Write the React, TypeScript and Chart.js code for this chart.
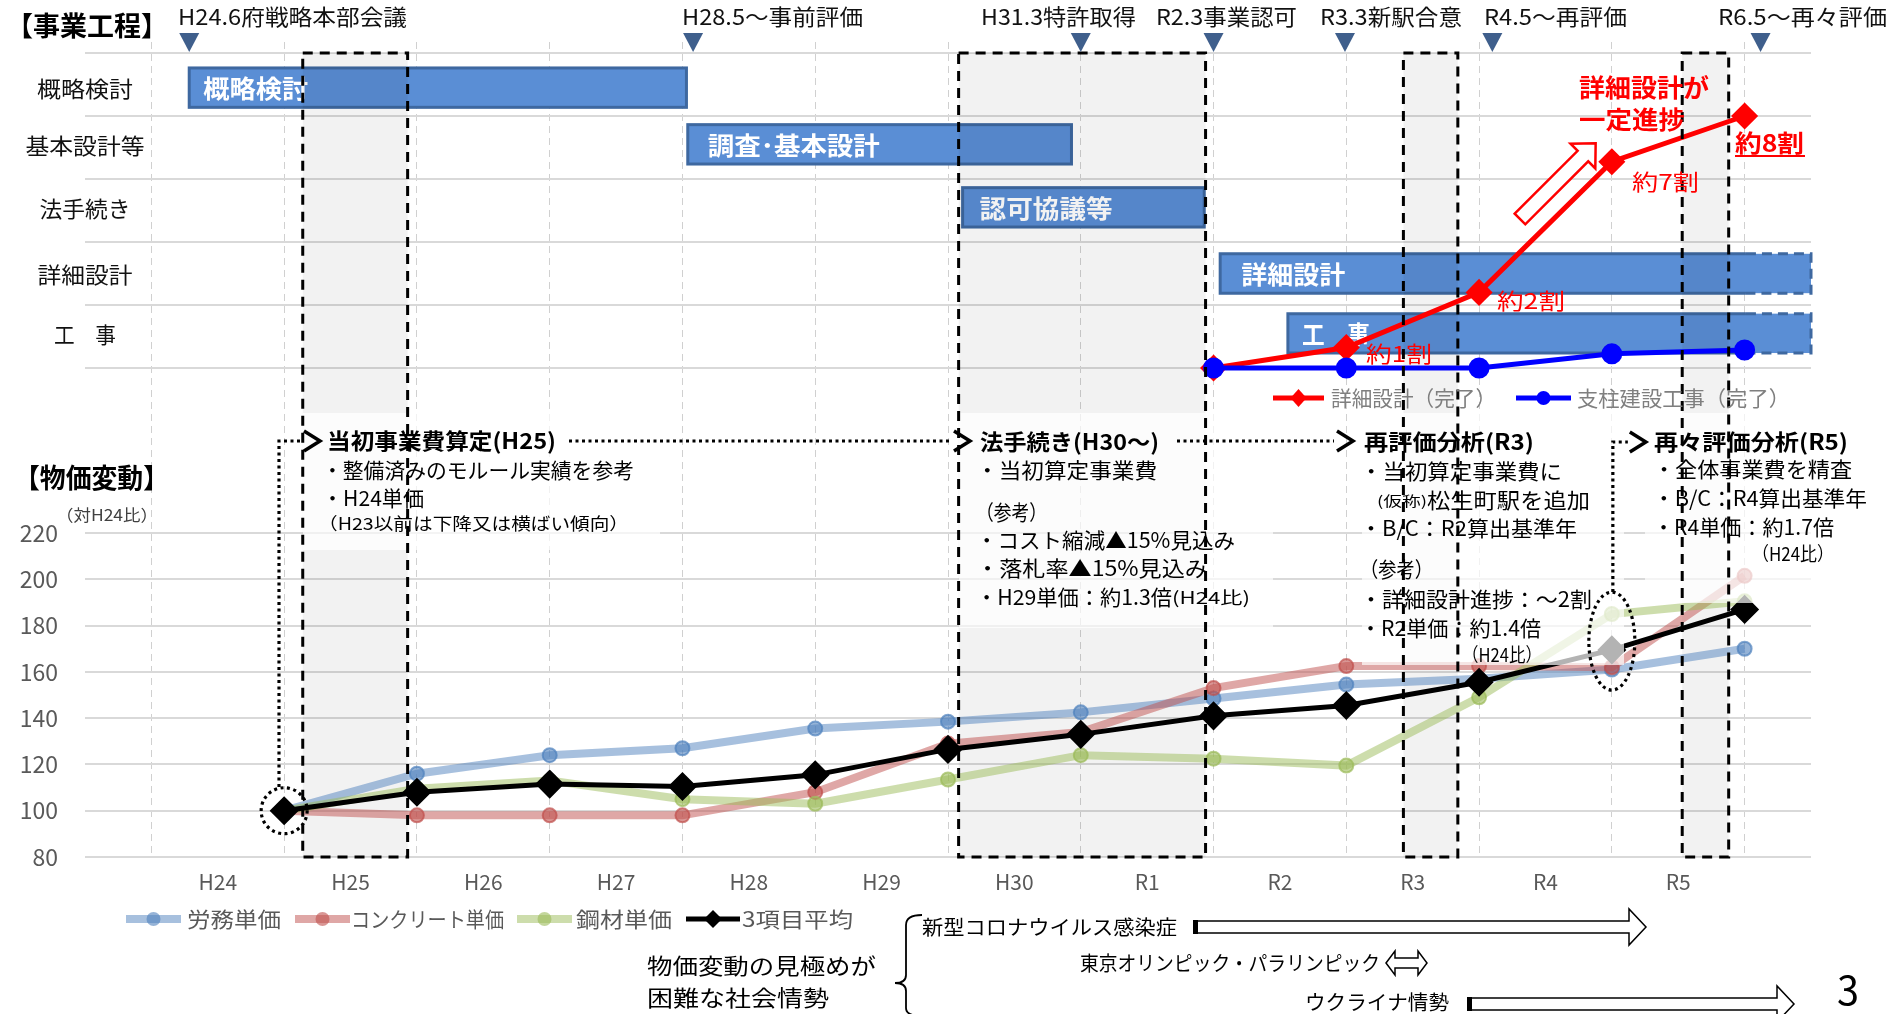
import React, { useEffect, useRef } from 'react';
import { Chart, registerables } from 'chart.js';
Chart.register(...registerables);

const FONT = '"Noto Sans CJK JP", "Noto Sans", sans-serif';
Chart.defaults.font.family = FONT;

// ---------- data ----------
const xLabels = ['H24', 'H25', 'H26', 'H27', 'H28', 'H29', 'H30', 'R1', 'R2', 'R3', 'R4', 'R5'];
const priceTicks = [80, 100, 120, 140, 160, 180, 200, 220];
const laborIdx = [100, 116, 124, 127, 135.5, 138.5, 142.5, 148.5, 154.5, 157, 161, 170];
const concreteIdx = [100, 98, 98, 98, 108, 129, 134, 153, 162.5, 162.5, 162, 201.5];
const steelIdx = [100, 109.5, 113, 105, 103, 113.5, 124, 122.5, 119.5, 149, 185, 190.5];
const avgIdx = [100, 108, 111.5, 110.5, 115.5, 126.5, 133, 141, 145.5, 155.5, 169.5, 187];

const progressX = [7, 8, 9, 10, 11];
const designProgress = [0, 6.5, 24, 65.5, 80];
const pillarProgress = [0, 0, 0, 4.5, 5.7];
const progressTicks = [0, 20, 40, 60, 80, 100];

const rowLabels = ['概略検討', '基本設計等', '法手続き', '詳細設計', '工　事'];
const taskLabels = ['概略検討', '調査･基本設計', '認可協議等', '詳細設計', '工　事'];
const taskRows = [0, 1, 2, 3, 4];
const taskStarts = [-0.715, 3.04, 5.11, 7.05, 7.56];
const taskSolidEnds = [3.03, 5.93, 6.93, 11.01, 11.01];
const taskEnds = [3.03, 5.93, 6.93, 11.5, 11.5];

const milestoneLabels = ['H24.6府戦略本部会議', 'H28.5～事前評価', 'H31.3特許取得', 'R2.3事業認可', 'R3.3新駅合意', 'R4.5～再評価', 'R6.5～再々評価'];
const milestoneAt = [-0.715, 3.08, 6.0, 7.0, 7.99, 9.1, 11.12];

const shadeStarts = [0.14, 5.08, 8.43, 10.53];
const shadeEnds = [0.93, 6.94, 8.84, 10.88];

const progressNotes = ['約1割', '約2割', '約7割', '約8割'];

// ---------- layout (pixels / styling) ----------
const rowCenters = [89, 71, 51, 30, 11];
const rowLabelW = [96, 119, 91, 95, 62];
const taskTextOffset = [14, 20, 17, 21, 14];
const taskTextW = [105, 172, 133, 104, 68];
const milestoneTextX = [178, 682, 981, 1156, 1320, 1484, 1718];
const milestoneTextW = [229, 181, 155, 141, 142, 143, 169];
const BAR_FILL = '#5A8ED5';
const BAR_EDGE = '#3E68A0';

function txt(ctx: any, s: string, x: number, y: number, size: number, o: any = {}) {
  ctx.save();
  ctx.font = `${o.bold ? 'bold ' : ''}${size}px ${FONT}`;
  ctx.fillStyle = o.color || '#000';
  ctx.textBaseline = 'middle';
  ctx.textAlign = 'left';
  const m = ctx.measureText(s).width;
  const sx = o.w ? Math.max(0.6, Math.min(1.4, o.w / m)) : 1;
  const width = m * sx;
  let left = x;
  if (o.align === 'center') left = x - width / 2;
  else if (o.align === 'right') left = x - width;
  ctx.translate(left, y);
  ctx.scale(sx, 1);
  ctx.fillText(s, 0, 0);
  ctx.restore();
}

function dotted(ctx: any, pts: number[][]) {
  ctx.save();
  ctx.setLineDash([3, 3.5]);
  ctx.lineWidth = 3.2;
  ctx.strokeStyle = '#000';
  ctx.beginPath();
  pts.forEach((p, i) => (i ? ctx.lineTo(p[0], p[1]) : ctx.moveTo(p[0], p[1])));
  ctx.stroke();
  ctx.restore();
}

function chevron(ctx: any, x: number, y: number) {
  ctx.save();
  ctx.lineWidth = 3.5;
  ctx.strokeStyle = '#000';
  ctx.beginPath();
  ctx.moveTo(x, y - 10);
  ctx.lineTo(x + 16, y);
  ctx.lineTo(x, y + 10);
  ctx.stroke();
  ctx.restore();
}

function arrowPath(ctx: any, x1: number, x2: number, y: number, sh: number, hh: number, hl: number) {
  ctx.beginPath();
  ctx.moveTo(x1, y - sh / 2);
  ctx.lineTo(x2 - hl, y - sh / 2);
  ctx.lineTo(x2 - hl, y - hh / 2);
  ctx.lineTo(x2, y);
  ctx.lineTo(x2 - hl, y + hh / 2);
  ctx.lineTo(x2 - hl, y + sh / 2);
  ctx.lineTo(x1, y + sh / 2);
  ctx.closePath();
}

function hollowArrow(ctx: any, x1: number, x2: number, y: number) {
  ctx.save();
  arrowPath(ctx, x1, x2, y, 12, 36, 17);
  ctx.fillStyle = '#fff';
  ctx.fill();
  ctx.strokeStyle = '#000';
  ctx.lineWidth = 1.5;
  ctx.stroke();
  ctx.fillStyle = '#000';
  ctx.fillRect(x1 - 2, y - 7, 5, 14);
  ctx.restore();
}

const overlayPlugin = {
  id: 'overlay',
  beforeDatasetsDraw(chart: any) {
    const ctx = chart.ctx;
    const X = (v: number) => chart.scales.x.getPixelForValue(v);
    const YT = (v: number) => chart.scales.yT.getPixelForValue(v);
    const YP = (v: number) => chart.scales.yP.getPixelForValue(v);
    const ca = chart.chartArea;
    const barH = YT(0) - YT(12.5);
    taskLabels.forEach((lab, i) => {
      const x1 = X(taskStarts[i]);
      const x2 = Math.min(X(taskEnds[i]), ca.right);
      const xs = X(taskSolidEnds[i]);
      const yc = YT(rowCenters[taskRows[i]]);
      const y1 = yc - barH / 2;
      ctx.save();
      ctx.fillStyle = BAR_FILL;
      ctx.fillRect(x1, y1, x2 - x1, barH);
      ctx.strokeStyle = BAR_EDGE;
      ctx.lineWidth = 3;
      if (xs >= x2 - 0.5) {
        ctx.strokeRect(x1, y1, x2 - x1, barH);
      } else {
        ctx.beginPath();
        ctx.moveTo(xs, y1); ctx.lineTo(x1, y1); ctx.lineTo(x1, y1 + barH); ctx.lineTo(xs, y1 + barH);
        ctx.stroke();
        ctx.setLineDash([10, 6]);
        ctx.beginPath();
        ctx.moveTo(xs, y1); ctx.lineTo(x2, y1); ctx.lineTo(x2, y1 + barH); ctx.lineTo(xs, y1 + barH);
        ctx.stroke();
      }
      ctx.restore();
      txt(ctx, lab, x1 + taskTextOffset[i], yc + 1, 25, { bold: true, color: '#fff', w: taskTextW[i] });
    });
    ctx.save();
    ctx.fillStyle = 'rgba(0,0,0,0.05)';
    shadeStarts.forEach((s, i) => {
      const x1 = X(s), x2 = X(shadeEnds[i]);
      ctx.fillRect(x1, YT(100), x2 - x1, YP(80) - YT(100));
    });
    ctx.restore();
  },
  afterDatasetsDraw(chart: any) {
    const ctx = chart.ctx;
    const X = (v: number) => chart.scales.x.getPixelForValue(v);
    const YT = (v: number) => chart.scales.yT.getPixelForValue(v);
    const YP = (v: number) => chart.scales.yP.getPixelForValue(v);
    const ds = chart.data.datasets;

    // translucent text boxes
    ctx.save();
    ctx.fillStyle = 'rgba(255,255,255,0.7)';
    ctx.fillRect(303, 413, 357, 137);
    ctx.fillRect(959, 413, 314, 215);
    ctx.fillRect(1362, 413, 262, 252);
    ctx.fillRect(1645, 413, 242, 190);
    ctx.restore();

    // dashed period frames
    ctx.save();
    ctx.setLineDash([10, 7]);
    ctx.lineWidth = 3;
    ctx.strokeStyle = '#000';
    shadeStarts.forEach((s, i) => {
      const x1 = X(s), x2 = X(shadeEnds[i]);
      ctx.strokeRect(x1, YT(100), x2 - x1, YP(80) - YT(100));
    });
    ctx.restore();

    // titles
    txt(ctx, '【事業工程】', 6, 26, 27, { bold: true, w: 162 });
    txt(ctx, '【物価変動】', 14, 478, 27, { bold: true, w: 155 });
    txt(ctx, '（対H24比）', 56, 515, 16, { w: 102, color: '#404040' });

    // milestones
    milestoneLabels.forEach((m, i) => {
      txt(ctx, m, milestoneTextX[i], 17, 22, { w: milestoneTextW[i], color: '#111' });
      const cx = X(milestoneAt[i]);
      ctx.save();
      ctx.fillStyle = '#3F5F8C';
      ctx.beginPath();
      ctx.moveTo(cx - 10, 33); ctx.lineTo(cx + 10, 33); ctx.lineTo(cx, 52); ctx.closePath();
      ctx.fill();
      ctx.restore();
    });

    // row labels
    rowLabels.forEach((r, i) => {
      txt(ctx, r, 85, YT(rowCenters[i]) + 1, 22, { align: 'center', w: rowLabelW[i], color: '#111' });
    });

    // red annotations
    txt(ctx, '詳細設計が', 1579, 87, 25, { bold: true, color: '#FF0000', w: 130 });
    txt(ctx, '一定進捗', 1579, 119, 25, { bold: true, color: '#FF0000', w: 106 });
    txt(ctx, progressNotes[3], 1735, 143, 24, { bold: true, color: '#FF0000', w: 69 });
    ctx.save();
    ctx.fillStyle = '#FF0000';
    ctx.fillRect(1735, 155, 70, 2);
    ctx.restore();
    txt(ctx, progressNotes[2], 1632, 182, 22, { color: '#FF0000', w: 67 });
    txt(ctx, progressNotes[1], 1497, 301, 22, { color: '#FF0000', w: 68 });
    txt(ctx, progressNotes[0], 1366, 354, 22, { color: '#FF0000', w: 66 });
    // diagonal hollow arrow
    ctx.save();
    ctx.translate(1520, 219);
    ctx.rotate(-Math.PI / 4);
    arrowPath(ctx, 0, 107, 0, 15, 35, 18);
    ctx.fillStyle = '#fff';
    ctx.fill();
    ctx.strokeStyle = '#FF0000';
    ctx.lineWidth = 2.5;
    ctx.stroke();
    ctx.restore();

    // top legend
    const legendTop = [
      { d: ds[4], x1: 1273, x2: 1324, tx: 1331, tw: 165 },
      { d: ds[5], x1: 1516, x2: 1571, tx: 1577, tw: 213 },
    ];
    legendTop.forEach((l) => {
      ctx.save();
      ctx.strokeStyle = l.d.borderColor;
      ctx.lineWidth = 5;
      ctx.beginPath(); ctx.moveTo(l.x1, 398); ctx.lineTo(l.x2, 398); ctx.stroke();
      ctx.fillStyle = l.d.borderColor;
      const cx = (l.x1 + l.x2) / 2;
      ctx.beginPath();
      if (l.d.pointStyle === 'rectRot') {
        ctx.moveTo(cx, 389); ctx.lineTo(cx + 8, 398); ctx.lineTo(cx, 407); ctx.lineTo(cx - 8, 398); ctx.closePath();
      } else {
        ctx.arc(cx, 398, 7, 0, Math.PI * 2);
      }
      ctx.fill();
      ctx.restore();
      txt(ctx, l.d.label, l.tx, 398, 21, { color: '#7F7F7F', w: l.tw });
    });

    // block 1
    dotted(ctx, [[279, 787], [279, 441], [301, 441]]);
    chevron(ctx, 304, 441);
    ctx.save();
    ctx.setLineDash([3, 3.5]);
    ctx.lineWidth = 3.2;
    ctx.beginPath();
    ctx.arc(X(0), YP(avgIdx[0]), 23, 0, Math.PI * 2);
    ctx.stroke();
    ctx.restore();
    txt(ctx, '当初事業費算定(H25)', 327, 441, 22, { bold: true, w: 229 });
    dotted(ctx, [[569, 441], [950, 441]]);
    txt(ctx, '・整備済みのモルール実績を参考', 322, 470, 21, { w: 312 });
    txt(ctx, '・H24単価', 322, 498, 21, { w: 102 });
    txt(ctx, '（H23以前は下降又は横ばい傾向）', 318, 524, 17, { w: 311 });

    // block 2
    chevron(ctx, 954, 441);
    txt(ctx, '法手続き(H30～)', 980, 442, 22, { bold: true, w: 179 });
    dotted(ctx, [[1177, 441], [1334, 441]]);
    txt(ctx, '・当初算定事業費', 976, 470, 21, { w: 181 });
    txt(ctx, '（参考）', 976, 512, 21, { w: 71 });
    txt(ctx, '・コスト縮減▲15%見込み', 976, 540, 21, { w: 259 });
    txt(ctx, '・落札率▲15%見込み', 976, 568, 21, { w: 232 });
    txt(ctx, '・H29単価：約1.3倍', 976, 597, 21, { w: 196 });
    txt(ctx, '(H24比)', 1172, 598, 17, { w: 78 });

    // block 3
    chevron(ctx, 1337, 441);
    txt(ctx, '再評価分析(R3)', 1364, 442, 22, { bold: true, w: 170 });
    txt(ctx, '・当初算定事業費に', 1360, 471, 21, { w: 202 });
    txt(ctx, '(仮称)', 1377, 501, 14, { w: 50 });
    txt(ctx, '松生町駅を追加', 1427, 500, 21, { w: 163 });
    txt(ctx, '・B/C：R2算出基準年', 1360, 528, 21, { w: 217 });
    txt(ctx, '（参考）', 1360, 569, 21, { w: 73 });
    txt(ctx, '・詳細設計進捗：～2割', 1360, 599, 21, { w: 232 });
    txt(ctx, '・R2単価：約1.4倍', 1360, 628, 21, { w: 181 });
    txt(ctx, '（H24比）', 1462, 655, 19, { w: 80 });

    // block 4
    const ex = X(10), ey = YP(173.3);
    ctx.save();
    ctx.setLineDash([3, 3.5]);
    ctx.lineWidth = 3.2;
    ctx.beginPath();
    ctx.ellipse(ex, ey, 23, 49, 0, 0, Math.PI * 2);
    ctx.stroke();
    ctx.restore();
    dotted(ctx, [[ex + 1, ey - 49], [ex + 1, 442], [ex + 16, 442]]);
    chevron(ctx, ex + 18, 442);
    txt(ctx, '再々評価分析(R5)', 1654, 442, 22, { bold: true, w: 194 });
    txt(ctx, '・全体事業費を精査', 1653, 469, 21, { w: 199 });
    txt(ctx, '・B/C：R4算出基準年', 1653, 498, 21, { w: 214 });
    txt(ctx, '・R4単価：約1.7倍', 1653, 527, 21, { w: 181 });
    txt(ctx, '（H24比）', 1752, 554, 19, { w: 82 });

    // bottom legend
    const legendBottom = [
      { d: ds[1], x1: 126, x2: 181, tx: 187, tw: 94 },
      { d: ds[2], x1: 295, x2: 350, tx: 351, tw: 153 },
      { d: ds[3], x1: 517, x2: 572, tx: 576, tw: 96 },
      { d: ds[0], x1: 686, x2: 740, tx: 742, tw: 111 },
    ];
    legendBottom.forEach((l) => {
      const y = 919;
      const cx = (l.x1 + l.x2) / 2;
      ctx.save();
      ctx.strokeStyle = l.d.borderColor;
      ctx.lineWidth = l.d.borderWidth;
      ctx.beginPath(); ctx.moveTo(l.x1, y); ctx.lineTo(l.x2, y); ctx.stroke();
      ctx.fillStyle = l.d.pointBackgroundColor;
      ctx.beginPath();
      if (l.d.pointStyle === 'rectRot') {
        ctx.moveTo(cx, y - 9); ctx.lineTo(cx + 9, y); ctx.lineTo(cx, y + 9); ctx.lineTo(cx - 9, y); ctx.closePath();
      } else {
        ctx.arc(cx, y, 7, 0, Math.PI * 2);
      }
      ctx.fill();
      ctx.restore();
      txt(ctx, l.d.label, l.tx, y, 21, { color: '#595959', w: l.tw });
    });

    // social situation
    txt(ctx, '物価変動の見極めが', 647, 966, 22, { w: 229 });
    txt(ctx, '困難な社会情勢', 647, 998, 22, { w: 182 });
    ctx.save();
    ctx.strokeStyle = '#000';
    ctx.lineWidth = 1.8;
    ctx.beginPath();
    ctx.moveTo(922, 915);
    ctx.quadraticCurveTo(906, 915, 906, 925);
    ctx.lineTo(906, 975);
    ctx.quadraticCurveTo(906, 983, 895, 983);
    ctx.quadraticCurveTo(906, 983, 906, 991);
    ctx.lineTo(906, 1008);
    ctx.quadraticCurveTo(906, 1016, 922, 1016);
    ctx.stroke();
    ctx.restore();
    txt(ctx, '新型コロナウイルス感染症', 922, 927, 20, { w: 255 });
    hollowArrow(ctx, 1195, 1646, 927);
    txt(ctx, '東京オリンピック・パラリンピック', 1080, 963, 20, { w: 300 });
    ctx.save();
    ctx.beginPath();
    ctx.moveTo(1386, 963);
    ctx.lineTo(1395, 951); ctx.lineTo(1395, 958); ctx.lineTo(1418, 958); ctx.lineTo(1418, 951);
    ctx.lineTo(1427, 963);
    ctx.lineTo(1418, 975); ctx.lineTo(1418, 968); ctx.lineTo(1395, 968); ctx.lineTo(1395, 975);
    ctx.closePath();
    ctx.fillStyle = '#fff'; ctx.fill();
    ctx.strokeStyle = '#000'; ctx.lineWidth = 1.5; ctx.stroke();
    ctx.restore();
    txt(ctx, 'ウクライナ情勢', 1305, 1002, 20, { w: 144 });
    hollowArrow(ctx, 1469, 1794, 1004);
    txt(ctx, '3', 1848, 990, 40, { align: 'center', w: 22 });
  },
};

const pts = (xs: number[], ys: number[]) => ys.map((y, i) => ({ x: xs[i], y }));
const idx = xLabels.map((_, i) => i);

export default function App() {
  const ref = useRef<HTMLCanvasElement>(null);
  useEffect(() => {
    document.body.style.margin = '0';
    const canvas = ref.current!;
    const xTickVals: number[] = [];
    for (let v = -1; v <= 11; v += 0.5) xTickVals.push(v);
    const chart = new Chart(canvas, {
      type: 'line',
      data: {
        datasets: [
          {
            label: '3項目平均', data: pts(idx, avgIdx), yAxisID: 'yP', xAxisID: 'x',
            borderColor: '#000000', backgroundColor: '#000000', borderWidth: 5,
            pointStyle: 'rectRot', pointRadius: 11, pointBackgroundColor: '#000000', pointBorderColor: '#000000', order: 2,
          },
          {
            label: '労務単価', data: pts(idx, laborIdx), yAxisID: 'yP', xAxisID: 'x',
            borderColor: 'rgba(79,129,189,0.5)', backgroundColor: 'rgba(79,129,189,0.5)', borderWidth: 8,
            pointStyle: 'circle', pointRadius: 7, pointBackgroundColor: 'rgba(79,129,189,0.6)',
            pointBorderColor: 'rgba(79,129,189,0.7)', pointBorderWidth: 2, order: 5,
          },
          {
            label: 'コンクリート単価', data: pts(idx, concreteIdx), yAxisID: 'yP', xAxisID: 'x',
            borderColor: 'rgba(192,80,77,0.5)', backgroundColor: 'rgba(192,80,77,0.5)', borderWidth: 8,
            pointStyle: 'circle', pointRadius: 7, pointBackgroundColor: 'rgba(192,80,77,0.6)',
            pointBorderColor: 'rgba(192,80,77,0.7)', pointBorderWidth: 2, order: 4,
          },
          {
            label: '鋼材単価', data: pts(idx, steelIdx), yAxisID: 'yP', xAxisID: 'x',
            borderColor: 'rgba(155,187,89,0.5)', backgroundColor: 'rgba(155,187,89,0.5)', borderWidth: 8,
            pointStyle: 'circle', pointRadius: 7, pointBackgroundColor: 'rgba(155,187,89,0.6)',
            pointBorderColor: 'rgba(155,187,89,0.7)', pointBorderWidth: 2, order: 3,
          },
          {
            label: '詳細設計（完了）', data: pts(progressX, designProgress), yAxisID: 'yT', xAxisID: 'x',
            borderColor: '#FF0000', backgroundColor: '#FF0000', borderWidth: 5,
            pointStyle: 'rectRot', pointRadius: 10, pointBackgroundColor: '#FF0000', pointBorderColor: '#FF0000', order: 1,
          },
          {
            label: '支柱建設工事（完了）', data: pts(progressX, pillarProgress), yAxisID: 'yT', xAxisID: 'x',
            borderColor: '#0000FF', backgroundColor: '#0000FF', borderWidth: 5,
            pointStyle: 'circle', pointRadius: 8, pointBackgroundColor: '#0000FF', pointBorderColor: '#0000FF', order: 0,
          },
        ] as any,
      },
      options: {
        responsive: false,
        animation: false,
        events: [],
        layout: { padding: { top: 42, left: 0, right: 0, bottom: 0 } },
        plugins: { legend: { display: false }, tooltip: { enabled: false } },
        scales: {
          x: {
            type: 'linear', position: 'bottom', min: -1.5, max: 11.5,
            afterBuildTicks: (s: any) => { s.ticks = xTickVals.map((v) => ({ value: v })); },
            afterFit: (s: any) => { s.height = 157; },
            grid: {
              drawTicks: false, lineWidth: 1,
              color: (c: any) => (c.tick && Number.isInteger(c.tick.value) ? '#D0D0D0' : 'rgba(0,0,0,0)'),
            },
            border: { display: false, dash: [7, 5] },
            ticks: {
              autoSkip: false, maxRotation: 0, minRotation: 0, padding: 12,
              color: '#595959', font: { size: 21 },
              callback: (v: any) => (Number.isInteger(v) ? '' : xLabels[Math.round(v + 0.5)]),
            },
          },
          yP: {
            type: 'linear', position: 'left', min: 80, max: 432.2,
            afterBuildTicks: (s: any) => { s.ticks = priceTicks.map((v) => ({ value: v })); },
            afterFit: (s: any) => { s.width = 85; },
            grid: { drawTicks: false, color: '#D9D9D9', lineWidth: 2 },
            border: { display: false },
            ticks: { padding: 27, color: '#595959', font: { size: 23 } },
          },
          yT: {
            type: 'linear', position: 'right', min: -155.24, max: 103.49,
            afterBuildTicks: (s: any) => { s.ticks = progressTicks.map((v) => ({ value: v })); },
            afterFit: (s: any) => { s.width = 76; },
            grid: { drawTicks: false, color: '#D9D9D9', lineWidth: 2 },
            border: { display: false },
            ticks: { display: false },
          },
        },
      } as any,
      plugins: [overlayPlugin],
    });
    return () => chart.destroy();
  }, []);
  return (
    <div style={{ width: 1887, height: 1014, background: '#fff' }}>
      <canvas ref={ref} width={1887} height={1014} style={{ display: 'block' }} />
    </div>
  );
}
